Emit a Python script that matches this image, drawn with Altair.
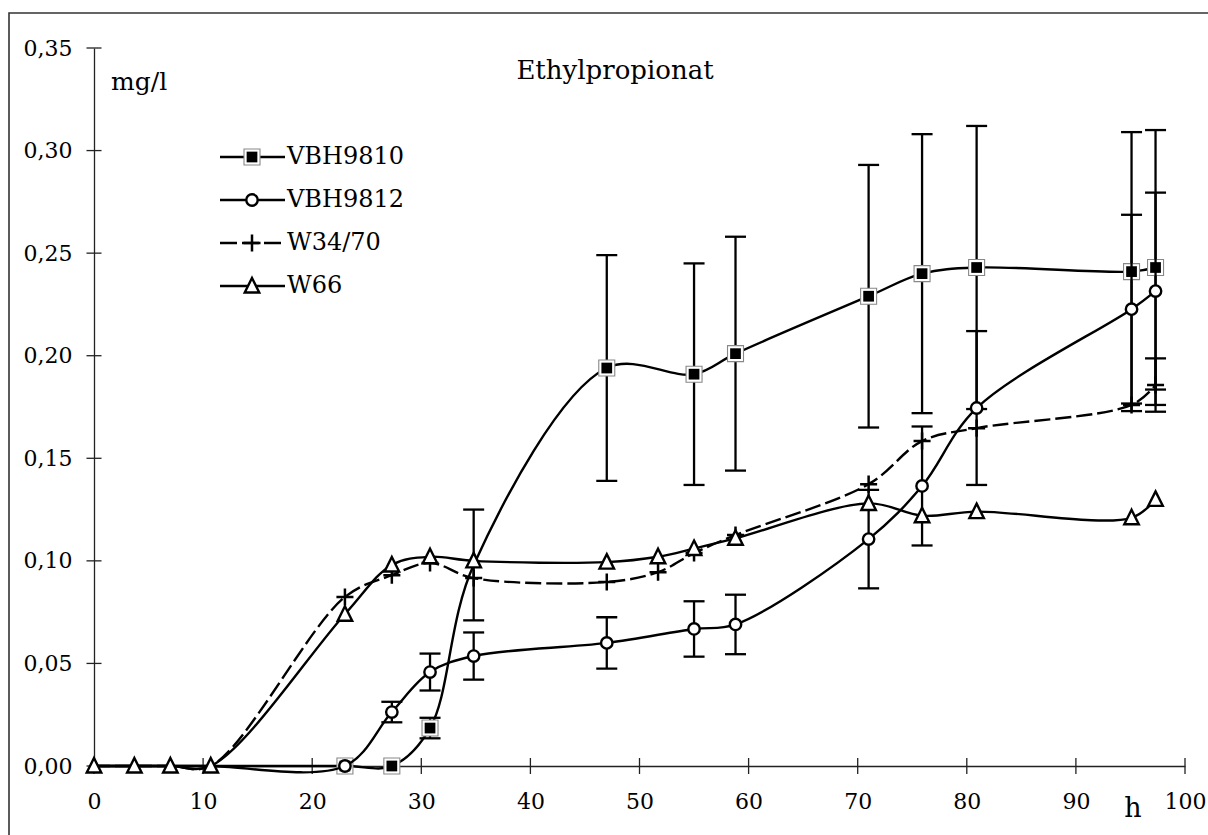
import altair as alt
import pandas as pd

# ---------------- data ----------------
hours = [0, 3.7, 7.0, 10.7, 23.0, 27.3, 30.8, 34.8, 47.0, 51.7, 55.0, 58.8, 71.0, 75.9, 80.9, 95.1, 97.3]

vbh9810 = [0, 0, 0, 0, 0.0, 0.0, 0.0185, 0.098, 0.194, None, 0.191, 0.201, 0.229, 0.240, 0.243, 0.241, 0.243]
vbh9810_err = [None, None, None, None, None, None, 0.005, 0.027, 0.055, None, 0.054, 0.057, 0.064, 0.068, 0.069, 0.068, 0.067]
vbh9810_mark = [0, 0, 0, 0, 1, 1, 1, 0, 1, 0, 1, 1, 1, 1, 1, 1, 1]

vbh9812 = [0, 0, 0, 0, 0.0, 0.0263, 0.0458, 0.0536, 0.060, None, 0.0668, 0.069, 0.1106, 0.1365, 0.1745, 0.2227, 0.2315]
vbh9812_err = [None, None, None, None, None, 0.005, 0.009, 0.0115, 0.0125, None, 0.0135, 0.0145, 0.024, 0.029, 0.0375, 0.046, 0.048]
vbh9812_mark = [0, 0, 0, 0, 1, 1, 1, 1, 1, 0, 1, 1, 1, 1, 1, 1, 1]

w3470 = [0, 0, 0, 0, 0.0824, 0.093, 0.099, 0.0916, 0.0897, 0.0945, 0.1038, 0.1126, 0.1374, 0.1584, 0.1647, 0.176, 0.1857]
w3470_err = [None] * 16 + [0.013]
w3470_mark = [0, 0, 0, 0, 1, 1, 1, 1, 1, 1, 1, 1, 1, 1, 1, 1, 1]

w66 = [0, 0, 0, 0, 0.074, 0.098, 0.102, 0.100, 0.0994, 0.102, 0.106, 0.111, 0.128, 0.122, 0.124, 0.121, 0.130]
w66_err = [None] * 17
w66_mark = [1] * 17

series_names = ["VBH9810", "VBH9812", "W34/70", "W66"]
x_ticks = [0, 10, 20, 30, 40, 50, 60, 70, 80, 90, 100]
y_ticks = [0.0, 0.05, 0.10, 0.15, 0.20, 0.25, 0.30, 0.35]

FONT = "DejaVu Serif"
W, H = 1091, 718

xs = alt.Scale(domain=[0, 100], nice=False, zero=False)
ys = alt.Scale(domain=[0, 0.35], nice=False, zero=False)

x_axis = alt.Axis(values=x_ticks, ticks=False, grid=False, domain=True, domainColor="#222", domainWidth=1.3,
                  labelFont=FONT, labelFontSize=22, labelColor="black", labelPadding=25,
                  labelFlush=False, labelOverlap=False, title=None)
y_axis = alt.Axis(values=y_ticks, ticks=False, grid=False, domain=True, domainColor="#222", domainWidth=1.3,
                  labelFont=FONT, labelFontSize=22, labelColor="black", labelPadding=22,
                  labelFlush=False, labelOverlap=False, title=None,
                  labelExpr="replace(format(datum.value, '.2f'), '.', ',')")


def frame(vals, errs, marks):
    df = pd.DataFrame({"hour": hours, "value": vals, "err": errs, "mark": marks})
    df = df.dropna(subset=["value"]).reset_index(drop=True)
    return df


def X(f):
    return alt.X(f, type="quantitative", scale=xs, axis=x_axis)


def Y(f):
    return alt.Y(f, type="quantitative", scale=ys, axis=y_axis)


def error_layers(df):
    e = df.dropna(subset=["err"]).copy()
    if e.empty:
        return []
    e["lo"] = e["value"] - e["err"]
    e["hi"] = e["value"] + e["err"]
    caps = pd.concat([e[["hour", "lo"]].rename(columns={"lo": "c"}),
                      e[["hour", "hi"]].rename(columns={"hi": "c"})])
    rule = alt.Chart(e).mark_rule(color="black", strokeWidth=2.3).encode(
        x=X("hour"), y=Y("lo"), y2="hi:Q")
    cap = alt.Chart(caps).mark_tick(orient="horizontal", size=21, thickness=2.3,
                                   color="black", opacity=1).encode(x=X("hour"), y=Y("c"))
    return [rule, cap]


def line_layer(df, dash=None):
    kw = dict(color="black", strokeWidth=2.4, interpolate="catmull-rom")
    if dash:
        kw["strokeDash"] = dash
    return alt.Chart(df).mark_line(**kw).encode(x=X("hour"), y=Y("value"))


SQUARE_OUT = dict(shape="square", size=256, filled=True, fill="white", stroke="#888", strokeWidth=1.1, opacity=1)
SQUARE_IN = dict(shape="square", size=115, filled=True, fill="black", strokeWidth=0, opacity=1)
CIRCLE = dict(shape="circle", size=130, filled=True, fill="white", stroke="black", strokeWidth=2.4, opacity=1)
PLUS = dict(shape="M-1,0L1,0M0,-1L0,1", size=290, filled=False, stroke="black", strokeWidth=2.5, opacity=1)
TRI = dict(shape="M0,-1.1L1,0.9L-1,0.9Z", size=210, filled=True, fill="white", stroke="black", strokeWidth=2.4, opacity=1)


def marker_layers(df, styles):
    m = df[df["mark"] == 1]
    return [alt.Chart(m).mark_point(**s).encode(x=X("hour"), y=Y("value")) for s in styles]


d1 = frame(vbh9810, vbh9810_err, vbh9810_mark)
d2 = frame(vbh9812, vbh9812_err, vbh9812_mark)
d3 = frame(w3470, w3470_err, w3470_mark)
d4 = frame(w66, w66_err, w66_mark)

layers = []

# outer frame of the figure
layers.append(alt.Chart(pd.DataFrame({"a": [0]})).mark_rect(fillOpacity=0, stroke="#333", strokeWidth=1.6).encode(
    x=alt.value(-85), x2=alt.value(1135), y=alt.value(-35), y2=alt.value(810)))

# crossing tick marks on both axes
xt = pd.DataFrame({"v": x_ticks})
yt = pd.DataFrame({"v": y_ticks})
layers.append(alt.Chart(xt).mark_tick(orient="vertical", size=16, thickness=1.3, color="#222", opacity=1).encode(
    x=X("v"), y=alt.value(H)))
layers.append(alt.Chart(yt).mark_tick(orient="horizontal", size=15, thickness=1.3, color="#222", opacity=1).encode(
    y=Y("v"), x=alt.value(0)))

# series
layers += error_layers(d1) + [line_layer(d1)] + marker_layers(d1, [SQUARE_OUT, SQUARE_IN])
layers += error_layers(d2) + [line_layer(d2)] + marker_layers(d2, [CIRCLE])
layers += error_layers(d3) + [line_layer(d3, [16, 5])] + marker_layers(d3, [PLUS])
layers += error_layers(d4) + [line_layer(d4)] + marker_layers(d4, [TRI])

# texts
one = pd.DataFrame({"a": [0]})


def text(t, x, y, size=20, align="left"):
    return alt.Chart(one).mark_text(text=t, font=FONT, fontSize=size, color="black", align=align,
                                    baseline="middle").encode(x=alt.value(x), y=alt.value(y))


layers.append(text("Ethylpropionat", 521, 23, 26, "center"))
layers.append(text("mg/l", 17, 34, 25))
layers.append(text("h", 1039, 761, 27, "center"))

# manual legend
leg_y = [109, 152, 195, 238]
leg_styles = [[SQUARE_OUT, SQUARE_IN], [CIRCLE], [PLUS], [TRI]]
for name, yy, st in zip(series_names, leg_y, leg_styles):
    kw = dict(color="black", strokeWidth=2.4)
    if name == "W34/70":
        kw["strokeDash"] = [17, 5]
    layers.append(alt.Chart(one).mark_rule(**kw).encode(x=alt.value(126), x2=alt.value(191), y=alt.value(yy)))
    for s in st:
        layers.append(alt.Chart(one).mark_point(**s).encode(x=alt.value(158), y=alt.value(yy)))
    layers.append(text(name, 193, yy, 24))

chart = alt.layer(*layers).properties(
    width=W, height=H,
    padding={"left": 94, "top": 48, "right": 23, "bottom": 69},
    autosize=alt.AutoSizeParams(type="none"),
    background="white",
).configure_view(strokeWidth=0)

chart.save("out.html", embed_options={"renderer": "svg", "actions": False})
